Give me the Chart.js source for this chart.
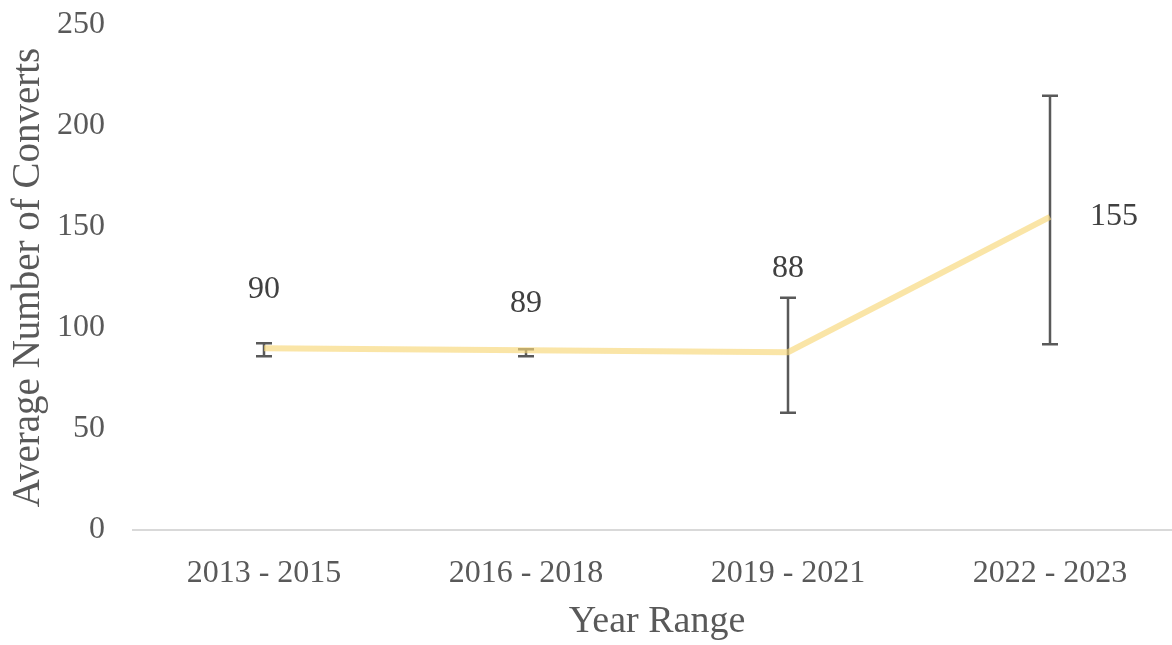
<!DOCTYPE html>
<html>
<head>
<meta charset="utf-8">
<script src="https://cdn.jsdelivr.net/npm/chart.js@4/dist/chart.umd.min.js"></script>
<style>
  html, body { margin: 0; padding: 0; background: #fff; overflow: hidden; }
  #wrap { width: 1172px; height: 645px; overflow: hidden; }
</style>
</head>
<body>
<div id="wrap"><canvas id="chart" width="1190" height="645"></canvas></div>
<script>
// chart data
const yearRanges = ["2013 - 2015", "2016 - 2018", "2019 - 2021", "2022 - 2023"];
const avgConverts = [90, 89, 88, 155];
const errLow = [86, 86, 58, 92];
const errHigh = [92.5, 89.5, 115, 215];
const yTicks = [0, 50, 100, 150, 200, 250];

// label offsets in px from the point: [dx, dy]
const labelOffsets = [[0, -59], [0, -47], [0, -84], [64, 0]];

const TEXT = "#595959";
const FONT = "'Liberation Serif', 'Times New Roman', serif";

//draw vertical error bars with caps under the line
const errorBars = {
  id: "errorBars",
  beforeDatasetsDraw(chart) {
    const { ctx, scales } = chart;
    ctx.save();
    ctx.strokeStyle = "#595959";
    ctx.lineWidth = 2.5;
    yearRanges.forEach((_, i) => {
      const x = scales.x.getPixelForValue(i);
      const top = scales.y.getPixelForValue(errHigh[i]);
      const bottom = scales.y.getPixelForValue(errLow[i]);
      ctx.beginPath();
      ctx.moveTo(x, top);
      ctx.lineTo(x, bottom);
      ctx.moveTo(x - 8, top);
      ctx.lineTo(x + 8, top);
      ctx.moveTo(x - 8, bottom);
      ctx.lineTo(x + 8, bottom);
      ctx.stroke();
    });
    ctx.restore();
  },
};

//value labels next to each point
const valueLabels = {
  id: "valueLabels",
  afterDatasetsDraw(chart) {
    const { ctx } = chart;
    const meta = chart.getDatasetMeta(0);
    ctx.save();
    ctx.fillStyle = "#404040";
    ctx.font = `32px ${FONT}`;
    ctx.textAlign = "center";
    ctx.textBaseline = "middle";
    meta.data.forEach((pt, i) => {
      const [dx, dy] = labelOffsets[i];
      ctx.fillText(String(avgConverts[i]), pt.x + dx, pt.y + dy);
    });
    ctx.restore();
  },
};

new Chart(document.getElementById("chart"), {
  type: "line",
  data: {
    labels: yearRanges,
    datasets: [
      {
        data: avgConverts,
        borderColor: "rgba(247, 215, 120, 0.65)",
        borderWidth: 6,
        pointRadius: 0,
        tension: 0,
      },
    ],
  },
  options: {
    responsive: false,
    animation: false,
    devicePixelRatio: 1,
    layout: { padding: { top: 25, right: 9, bottom: 0, left: 0 } },
    plugins: { legend: { display: false }, tooltip: { enabled: false } },
    scales: {
      x: {
        offset: true,
        afterFit(scale) {
          scale.height = 115;
        },
        grid: { display: false },
        border: { color: "#d9d9d9", width: 2 },
        ticks: { color: TEXT, font: { family: FONT, size: 32 }, padding: 16 },
        title: {
          display: true,
          text: "Year Range",
          color: TEXT,
          font: { family: FONT, size: 38 },
          padding: { top: 0, bottom: 0 },
        },
      },
      y: {
        min: 0,
        max: 250,
        afterBuildTicks(scale) {
          scale.ticks = yTicks.map((v) => ({ value: v }));
        },
        afterFit(scale) {
          scale.width = 133;
          scale.paddingTop = 0;
          scale.paddingBottom = 0;
        },
        grid: { display: false },
        border: { display: false },
        ticks: { color: TEXT, font: { family: FONT, size: 32 }, padding: 20 },
        title: {
          display: true,
          text: "Average Number of Converts",
          color: TEXT,
          font: { family: FONT, size: 39 },
          padding: { top: 5, bottom: 0 },
        },
      },
    },
  },
  plugins: [errorBars, valueLabels],
});
</script>
</body>
</html>
